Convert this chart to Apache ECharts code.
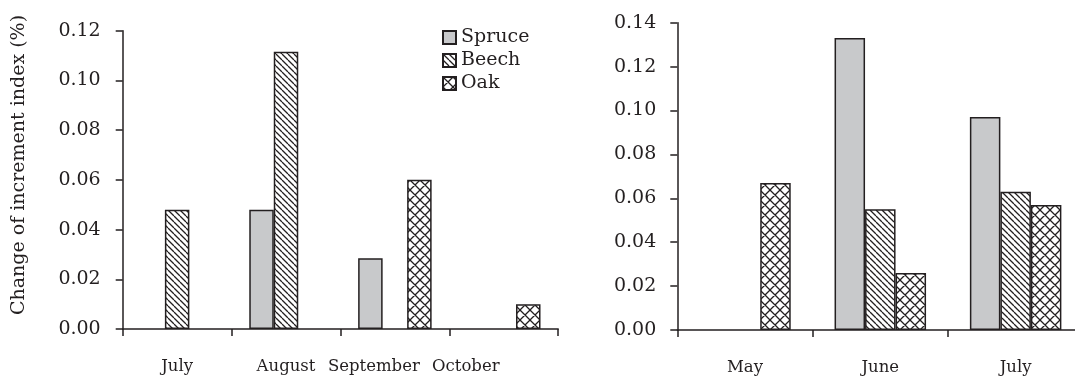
<!DOCTYPE html>
<html>
<head>
<meta charset="utf-8">
<script src="https://cdn.jsdelivr.net/npm/echarts@6/dist/echarts.min.js"></script>
<style>
html,body{margin:0;padding:0;background:#fff;}
#chart{width:1075px;height:385px;}
</style>
</head>
<body>
<div id="chart"></div>
<script>
// ---- data ----
const seriesNames = ['Spruce', 'Beech', 'Oak'];
const leftCategories = ['July', 'August', 'September', 'October'];
const leftSpruce = [null, 0.048, 0.0285, null];
const leftBeech = [0.048, 0.1115, null, null];
const leftOak = [null, null, 0.060, 0.010];
const rightCategories = ['May', 'June', 'July'];
const rightSpruce = [null, 0.133, 0.097];
const rightBeech = [null, 0.055, 0.063];
const rightOak = [0.067, 0.026, 0.057];
const leftTicks = { min: 0, max: 0.12, interval: 0.02 };
const rightTicks = { min: 0, max: 0.14, interval: 0.02 };
const yAxisTitle = 'Change of increment index (%)';

// ---- patterns ----
const INK = '#231f20';
function makeTile(size, draw) {
  const c = document.createElement('canvas');
  c.width = size; c.height = size;
  const ctx = c.getContext('2d');
  ctx.fillStyle = '#ffffff';
  ctx.fillRect(0, 0, size, size);
  ctx.strokeStyle = INK;
  ctx.lineWidth = 1.3;
  ctx.beginPath();
  draw(ctx, size);
  ctx.stroke();
  return c;
}
const beechTile = makeTile(6, (ctx, s) => {
  for (let k = -s; k <= s; k += s) { ctx.moveTo(k, 0); ctx.lineTo(k + s, s); }
});
const oakTile = makeTile(10, (ctx, s) => {
  for (let k = -s; k <= s; k += s) {
    ctx.moveTo(k, 0); ctx.lineTo(k + s, s);
    ctx.moveTo(k + s, 0); ctx.lineTo(k, s);
  }
});
const fills = {
  Spruce: '#c8c9cb',
  Beech: { image: beechTile, repeat: 'repeat' },
  Oak: { image: oakTile, repeat: 'repeat' }
};

const chart = echarts.init(document.getElementById('chart'), null, { renderer: 'canvas' });
const FONT = 'DejaVu Serif';
const XFS = 16.5;

// left-chart x labels sit slightly left of their category centres in the reference
const labelRich = {
  l0: { fontSize: XFS, fontFamily: FONT, color: INK },
  l1: { fontSize: XFS, fontFamily: FONT, color: INK },
  l2: { fontSize: XFS, fontFamily: FONT, color: INK, padding: [0, 42, 0, 0] },
  l3: { fontSize: XFS, fontFamily: FONT, color: INK, padding: [0, 76, 0, 0] }
};

function xAxisCfg(gi, cats, shifted) {
  const label = { interval: 0, margin: 29, fontSize: XFS, color: INK, fontFamily: FONT };
  if (shifted) {
    label.formatter = (v, i) => '{l' + i + '|' + v + '}';
    label.rich = labelRich;
  }
  return {
    type: 'category', gridIndex: gi, data: cats, boundaryGap: true,
    axisLine: { show: true, lineStyle: { color: INK, width: 1.5 } },
    axisTick: { show: true, interval: 0, length: 7, inside: false, lineStyle: { color: INK, width: 1.5 } },
    axisLabel: label,
    splitLine: { show: false }
  };
}
function yAxisCfg(gi, t, margin) {
  return {
    type: 'value', gridIndex: gi, min: t.min, max: t.max, interval: t.interval,
    axisLine: { show: true, lineStyle: { color: INK, width: 1.5 } },
    axisTick: { show: true, length: 7, inside: false, lineStyle: { color: INK, width: 1.5 } },
    axisLabel: { margin: margin, fontSize: 19, color: INK, fontFamily: FONT, formatter: v => v.toFixed(2) },
    splitLine: { show: false }
  };
}
function barSeries(name, gi, data, bw) {
  return {
    type: 'bar', name: name, xAxisIndex: gi, yAxisIndex: gi, data: data,
    barWidth: bw, barGap: '0%',
    itemStyle: { color: fills[name], borderColor: INK, borderWidth: 1.5 },
    emphasis: { disabled: true }
  };
}

chart.setOption({
  animation: false,
  backgroundColor: '#ffffff',
  textStyle: { fontFamily: FONT, color: INK },
  grid: [
    { left: 122.7, top: 30.7, width: 435.5, height: 298.3, outerBoundsMode: 'none', containLabel: false },
    { left: 677.3, top: 22.7, width: 406, height: 307.3, outerBoundsMode: 'none', containLabel: false }
  ],
  xAxis: [xAxisCfg(0, leftCategories, true), xAxisCfg(1, rightCategories, false)],
  yAxis: [yAxisCfg(0, leftTicks, 22), yAxisCfg(1, rightTicks, 21)],
  legend: {
    data: seriesNames, orient: 'vertical', left: 442, top: 28, padding: 0,
    itemWidth: 13, itemHeight: 13, itemGap: 4, itemTextGap: 6, icon: 'rect',
    textStyle: { fontSize: 19, color: INK, fontFamily: FONT },
    selectedMode: false
  },
  graphic: [{
    type: 'text', x: 19, y: 165, rotation: Math.PI / 2,
    style: { text: yAxisTitle, fontSize: 19, fontFamily: FONT, fill: INK, align: 'center', verticalAlign: 'middle' }
  }],
  series: [
    barSeries('Spruce', 0, leftSpruce, 24.5),
    barSeries('Beech', 0, leftBeech, 24.5),
    barSeries('Oak', 0, leftOak, 24.5),
    barSeries('Spruce', 1, rightSpruce, 30.5),
    barSeries('Beech', 1, rightBeech, 30.5),
    barSeries('Oak', 1, rightOak, 30.5)
  ]
});
</script>
</body>
</html>
